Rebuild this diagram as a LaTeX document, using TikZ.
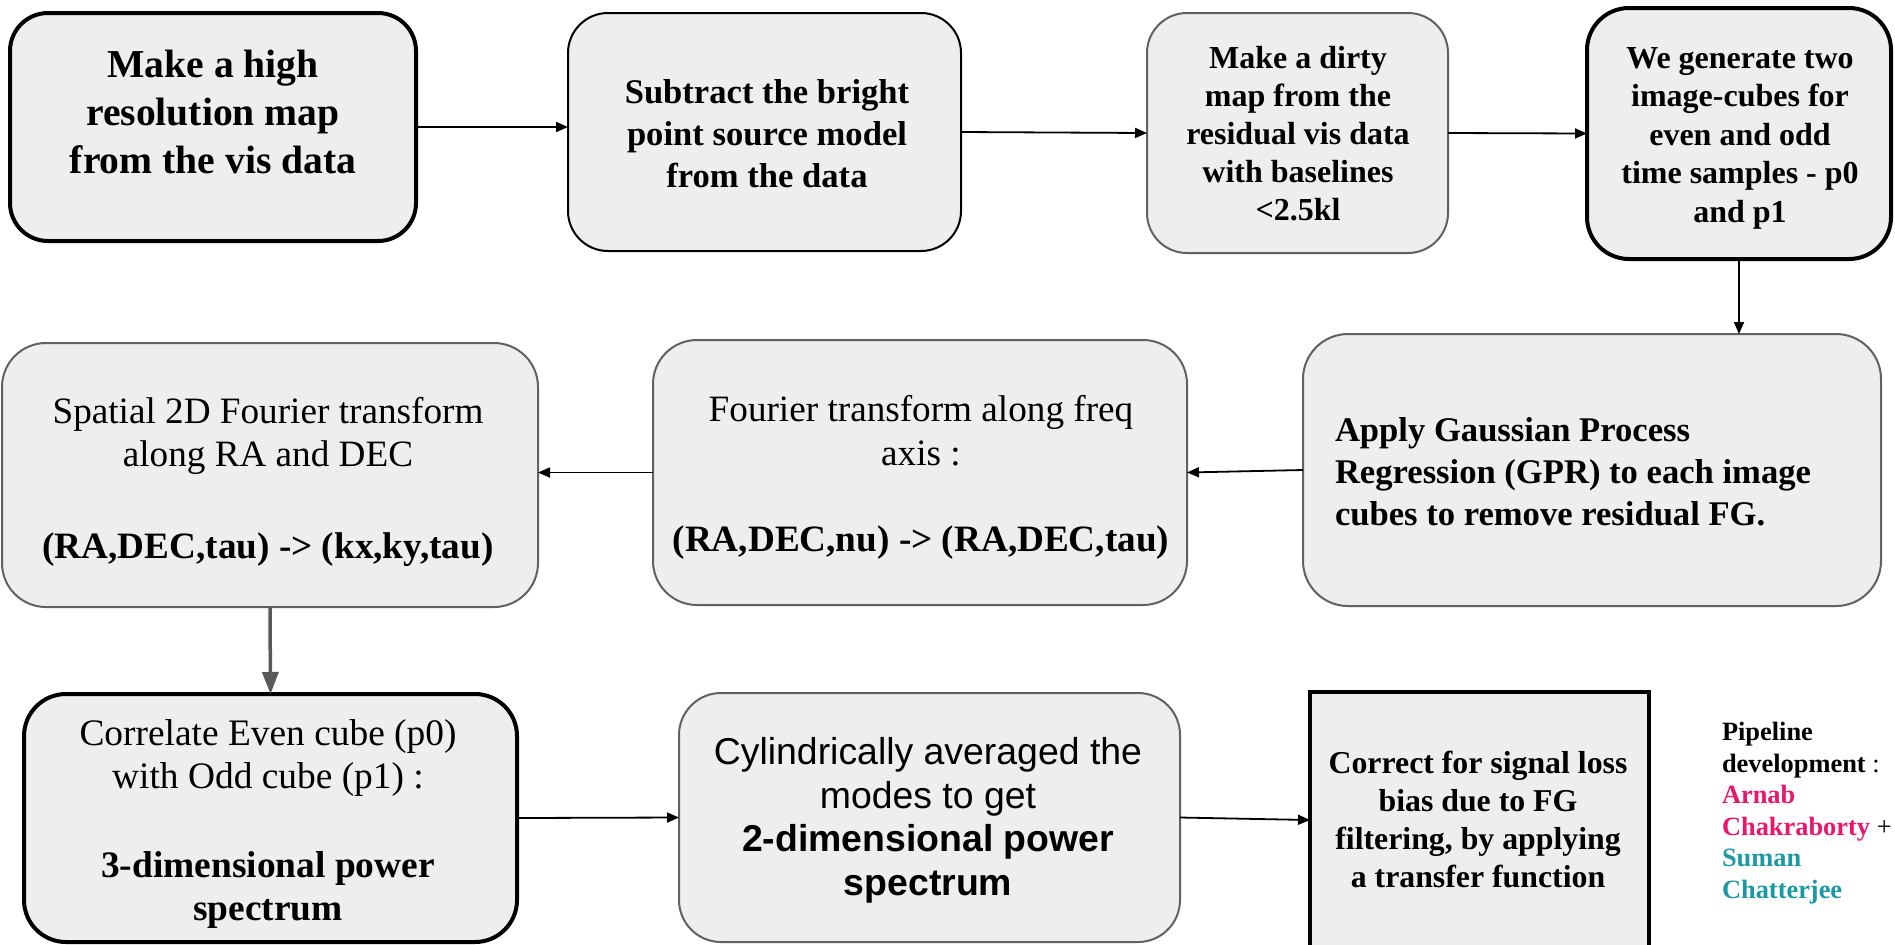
\documentclass[tikz,border=0pt]{standalone}
\usepackage{fontspec}
\setmainfont{Liberation Serif}
\setsansfont{Liberation Sans}
\usetikzlibrary{arrows.meta}
\definecolor{boxfill}{HTML}{EEEEEE}
\definecolor{edgegray}{HTML}{616161}
\definecolor{arrgray}{HTML}{595959}
\definecolor{namepink}{HTML}{E8166C}
\definecolor{nameteal}{HTML}{1B99A5}
\tikzset{
  box/.style={draw=edgegray, fill=boxfill, line width=1pt, inner sep=0pt, outer sep=0pt},
  thickbox/.style={box, draw=black, line width=2pt},
  txt/.style={inner sep=0pt, outer sep=0pt, anchor=base, align=center},
  arr/.style={line width=0.9pt, -{Triangle[length=6pt,width=5pt]}},
  bigarr/.style={draw=arrgray, line width=1.75pt, -{Triangle[length=11pt,width=8pt]}},
}
\begin{document}
\begin{tikzpicture}[x=0.5pt, y=-0.5pt]
\useasboundingbox (0,0) rectangle (1895,944);
\clip (0,0) rectangle (1895,944);
% boxes
\node[thickbox, minimum width=203pt, minimum height=114pt, rounded corners=19pt] (b1) at (213,127) {};
\node[box, draw=black, minimum width=196.5pt, minimum height=119pt, rounded corners=20pt] (b2) at (764.5,132) {};
\node[box, minimum width=150.5pt, minimum height=120pt, rounded corners=20pt] (b3) at (1297.5,133) {};
\node[thickbox, minimum width=152pt, minimum height=125.5pt, rounded corners=21pt] (b4) at (1739,133.5) {};
\node[box, minimum width=289pt, minimum height=136pt, rounded corners=22.5pt] (b5) at (1592,470) {};
\node[box, minimum width=267pt, minimum height=132.5pt, rounded corners=22pt] (b6) at (920,472.5) {};
\node[box, minimum width=268pt, minimum height=132pt, rounded corners=22pt] (b7) at (270,475) {};
\node[thickbox, minimum width=246.5pt, minimum height=124pt, rounded corners=21pt] (b8) at (270.5,818) {};
\node[box, minimum width=250.5pt, minimum height=124.5pt, rounded corners=21pt] (b9) at (929.5,817.5) {};
\node[thickbox, line width=1.75pt, minimum width=169.5pt, minimum height=128pt] (b10) at (1479.5,820) {};
% texts (anchor = baseline of the last line)
\node[txt, font=\bfseries\fontsize{19.8pt}{24pt}\selectfont] (t1) at (213,173) {Make a high\\resolution map\\from the vis data};
\node[txt, font=\bfseries\fontsize{17.3pt}{21pt}\selectfont] (t2) at (767,187) {Subtract the bright\\point source model\\from the data};
\node[txt, font=\bfseries\fontsize{16pt}{19pt}\selectfont] (t3) at (1298,220) {Make a dirty\\map from the\\residual vis data\\with baselines\\<2.5kl};
\node[txt, font=\bfseries\fontsize{16pt}{19.25pt}\selectfont] (t4) at (1740,222) {We generate two\\image-cubes for\\even and odd\\time samples - p0\\and p1};
\node[txt, anchor=base west, align=left, font=\bfseries\fontsize{17.3pt}{21pt}\selectfont] (t5) at (1335,525) {Apply Gaussian Process\\Regression (GPR) to each image\\cubes to remove residual FG.};
\node[txt, font=\fontsize{18.6pt}{22pt}\selectfont] (t6) at (921,551) {Fourier transform along freq\\axis :\\[21pt]\textbf{(RA,DEC,nu) -> (RA,DEC,tau)}};
\node[txt, font=\fontsize{18.6pt}{21.5pt}\selectfont] (t7) at (268,558) {Spatial 2D Fourier transform\\along RA and DEC\\[24.5pt]\textbf{(RA,DEC,tau) -> (kx,ky,tau)}};
\node[txt, font=\fontsize{18.7pt}{21.5pt}\selectfont] (t8) at (268,920) {Correlate Even cube (p0)\\with Odd cube (p1) :\\[23pt]\textbf{3-dimensional power}\\\textbf{spectrum}};
\node[txt, font=\sffamily\fontsize{18.7pt}{21.75pt}\selectfont] (t9) at (928,895) {Cylindrically averaged the\\modes to get\\\textbf{2-dimensional power}\\\textbf{spectrum}};
\node[txt, font=\bfseries\fontsize{15.9pt}{19pt}\selectfont] (t10) at (1478,887) {Correct for signal loss\\bias due to FG\\filtering, by applying\\a transfer function};
\node[txt, anchor=base west, align=left, font=\fontsize{13.2pt}{15.75pt}\selectfont] (t11) at (1722,898) {\textbf{Pipeline}\\\textbf{development} :\\\textcolor{namepink}{\textbf{Arnab}}\\\textcolor{namepink}{\textbf{Chakraborty}} +\\\textcolor{nameteal}{\textbf{Suman}}\\\textcolor{nameteal}{\textbf{Chatterjee}}};
% connectors
\draw[arr] (b1.east) -- (b1.east -| b2.west);
\draw[arr] (b2.east) -- (b3.west);
\draw[arr] (b3.east) -- (b4.west);
\draw[arr] (b4.south) -- (b4.south |- b5.north);
\draw[arr] (b5.west) -- (b6.east);
\draw[arr] (b6.west) -- (b6.west -| b7.east);
\draw[bigarr] (b7.south) -- (b8.north);
\draw[arr] (b8.east) -- (b9.west);
\draw[arr] (b9.east) -- (b10.west);
\end{tikzpicture}
\end{document}
